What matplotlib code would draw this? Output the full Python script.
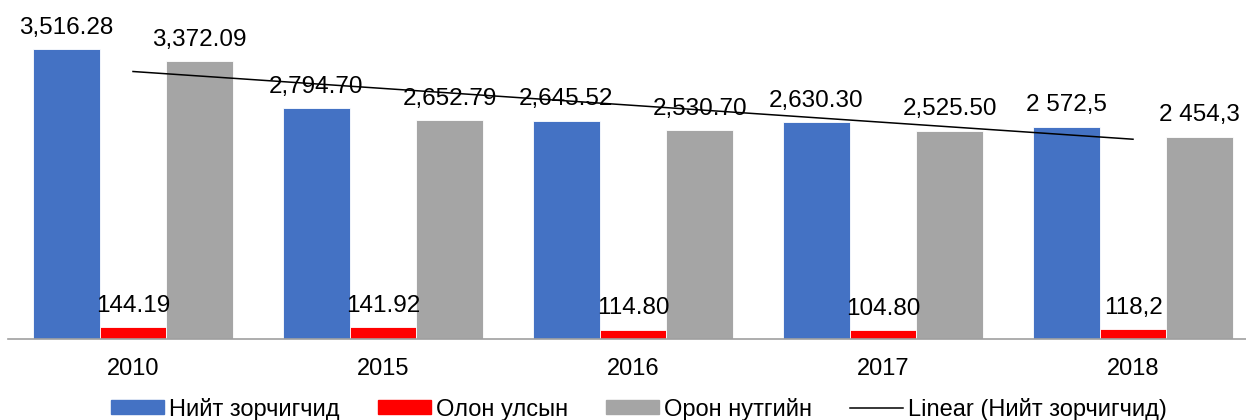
import numpy as np
import matplotlib
matplotlib.use("Agg")
import matplotlib.pyplot as plt
import matplotlib.patches as mpatches
from matplotlib.lines import Line2D

plt.rcParams['font.family'] = ['Liberation Sans', 'DejaVu Sans']

# Данные
years = ["2010", "2015", "2016", "2017", "2018"]
total = [3516.28, 2794.70, 2645.52, 2630.30, 2572.5]
intl = [144.19, 141.92, 114.80, 104.80, 118.2]
domestic = [3372.09, 2652.79, 2530.70, 2525.50, 2454.3]

total_labels = ["3,516.28", "2,794.70", "2,645.52", "2,630.30", "2 572,5"]
intl_labels = ["144.19", "141.92", "114.80", "104.80", "118,2"]
domestic_labels = ["3,372.09", "2,652.79", "2,530.70", "2,525.50", "2 454,3"]

names = ["Нийт зорчигчид", "Олон улсын", "Орон нутгийн", "Linear (Нийт зорчигчид)"]
colors = ["#4472C4", "#FF0000", "#A5A5A5"]

W, H = 1246, 420
fig = plt.figure(figsize=(W / 100, H / 100), dpi=100)
ax = fig.add_axes([8 / W, (H - 339) / H, 1250 / W, 339 / H])

x = np.arange(len(years))
bw = 0.8 / 3
series = [(total, total_labels), (intl, intl_labels), (domestic, domestic_labels)]
for i, (vals, labs) in enumerate(series):
    pos = x + (i - 1) * bw
    ax.bar(pos, vals, width=bw, color=colors[i], edgecolor="white", linewidth=0.6, zorder=2)
    for px, v, t in zip(pos, vals, labs):
        ax.annotate(t, (px, v), xytext=(0, 11), textcoords="offset points",
                    ha="center", va="baseline", fontsize=17.5, color="black", zorder=4)

# Линейный тренд
k, b = np.polyfit(x, total, 1)
ax.plot(x, k * x + b, color="black", linewidth=1.1, zorder=3)

ax.set_xlim(-0.5, len(years) - 0.5)
ax.set_ylim(0, 4109)
ax.set_xticks(x)
ax.set_xticklabels(years, fontsize=17)
ax.tick_params(axis="x", length=0, pad=14)
ax.set_yticks([])
for s in ["top", "right", "left"]:
    ax.spines[s].set_visible(False)
ax.spines["bottom"].set_color("#A0A0A0")
ax.spines["bottom"].set_linewidth(1.2)

handles = [mpatches.Patch(color=c) for c in colors] + [Line2D([0], [0], color="black", linewidth=1.1)]
fig.legend(handles, names, loc="lower center", bbox_to_anchor=(0.513, -0.052), ncol=4,
           frameon=False, fontsize=17, handlelength=2.25, handleheight=0.55,
           handletextpad=0.22, columnspacing=1.6)

fig.savefig("out.png", dpi=100)
